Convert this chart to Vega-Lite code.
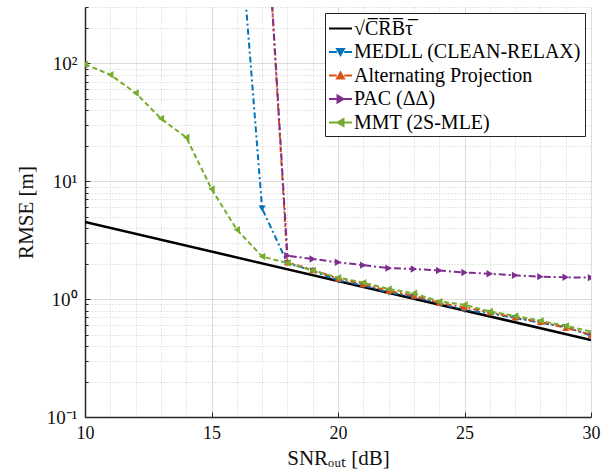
{
  "$schema": "https://vega.github.io/schema/vega-lite/v6.json",
  "width": 506,
  "height": 410,
  "autosize": {"type": "none"},
  "padding": {"left": 85, "top": 7, "right": 12, "bottom": 55},
  "background": "white",
  "config": {
    "view": {"stroke": null},
    "font": "Liberation Serif",
    "legend": {"labelFont": "Liberation Serif"},
    "axis": {"labelFont": "Liberation Serif", "titleFont": "Liberation Serif", "titleFontWeight": "normal", "labelColor": "#111", "titleColor": "#111", "domainColor": "#262626", "tickColor": "#262626", "labelFlush": false}
  },
  "data": {"values": [
    {"g": "crb", "s": "√C̅R̅B̅τ̅", "x": 10, "y": 4.5},
    {"g": "crb", "s": "√C̅R̅B̅τ̅", "x": 30, "y": 0.45},
    {"g": "medll", "s": "MEDLL (CLEAN-RELAX)", "x": 16, "y": 3000},
    {"g": "medll", "s": "MEDLL (CLEAN-RELAX)", "x": 17, "y": 5.87},
    {"g": "medll", "s": "MEDLL (CLEAN-RELAX)", "x": 18, "y": 2.02},
    {"g": "medll", "s": "MEDLL (CLEAN-RELAX)", "x": 19, "y": 1.74},
    {"g": "medll", "s": "MEDLL (CLEAN-RELAX)", "x": 20, "y": 1.44},
    {"g": "medll", "s": "MEDLL (CLEAN-RELAX)", "x": 21, "y": 1.31},
    {"g": "medll", "s": "MEDLL (CLEAN-RELAX)", "x": 22, "y": 1.14},
    {"g": "medll", "s": "MEDLL (CLEAN-RELAX)", "x": 23, "y": 1.05},
    {"g": "medll", "s": "MEDLL (CLEAN-RELAX)", "x": 24, "y": 0.92},
    {"g": "medll", "s": "MEDLL (CLEAN-RELAX)", "x": 25, "y": 0.81},
    {"g": "medll", "s": "MEDLL (CLEAN-RELAX)", "x": 26, "y": 0.76},
    {"g": "medll", "s": "MEDLL (CLEAN-RELAX)", "x": 27, "y": 0.69},
    {"g": "medll", "s": "MEDLL (CLEAN-RELAX)", "x": 28, "y": 0.63},
    {"g": "medll", "s": "MEDLL (CLEAN-RELAX)", "x": 29, "y": 0.58},
    {"g": "medll", "s": "MEDLL (CLEAN-RELAX)", "x": 30, "y": 0.49},
    {"g": "ap", "s": "Alternating Projection", "x": 17, "y": 8000},
    {"g": "ap", "s": "Alternating Projection", "x": 18, "y": 2.05},
    {"g": "ap", "s": "Alternating Projection", "x": 19, "y": 1.77},
    {"g": "ap", "s": "Alternating Projection", "x": 20, "y": 1.49},
    {"g": "ap", "s": "Alternating Projection", "x": 21, "y": 1.34},
    {"g": "ap", "s": "Alternating Projection", "x": 22, "y": 1.17},
    {"g": "ap", "s": "Alternating Projection", "x": 23, "y": 1.07},
    {"g": "ap", "s": "Alternating Projection", "x": 24, "y": 0.93},
    {"g": "ap", "s": "Alternating Projection", "x": 25, "y": 0.85},
    {"g": "ap", "s": "Alternating Projection", "x": 26, "y": 0.77},
    {"g": "ap", "s": "Alternating Projection", "x": 27, "y": 0.7},
    {"g": "ap", "s": "Alternating Projection", "x": 28, "y": 0.64},
    {"g": "ap", "s": "Alternating Projection", "x": 29, "y": 0.57},
    {"g": "ap", "s": "Alternating Projection", "x": 30, "y": 0.5},
    {"g": "pac", "s": "PAC (ΔΔ)", "x": 17, "y": 8000},
    {"g": "pac", "s": "PAC (ΔΔ)", "x": 18, "y": 2.33},
    {"g": "pac", "s": "PAC (ΔΔ)", "x": 19, "y": 2.19},
    {"g": "pac", "s": "PAC (ΔΔ)", "x": 20, "y": 2.05},
    {"g": "pac", "s": "PAC (ΔΔ)", "x": 21, "y": 1.94},
    {"g": "pac", "s": "PAC (ΔΔ)", "x": 22, "y": 1.83},
    {"g": "pac", "s": "PAC (ΔΔ)", "x": 23, "y": 1.8},
    {"g": "pac", "s": "PAC (ΔΔ)", "x": 24, "y": 1.75},
    {"g": "pac", "s": "PAC (ΔΔ)", "x": 25, "y": 1.68},
    {"g": "pac", "s": "PAC (ΔΔ)", "x": 26, "y": 1.64},
    {"g": "pac", "s": "PAC (ΔΔ)", "x": 27, "y": 1.59},
    {"g": "pac", "s": "PAC (ΔΔ)", "x": 28, "y": 1.55},
    {"g": "pac", "s": "PAC (ΔΔ)", "x": 29, "y": 1.53},
    {"g": "pac", "s": "PAC (ΔΔ)", "x": 30, "y": 1.52},
    {"g": "mmt", "s": "MMT (2S-MLE)", "x": 10, "y": 98},
    {"g": "mmt", "s": "MMT (2S-MLE)", "x": 11, "y": 80},
    {"g": "mmt", "s": "MMT (2S-MLE)", "x": 12, "y": 56},
    {"g": "mmt", "s": "MMT (2S-MLE)", "x": 13, "y": 34},
    {"g": "mmt", "s": "MMT (2S-MLE)", "x": 14, "y": 23.5},
    {"g": "mmt", "s": "MMT (2S-MLE)", "x": 15, "y": 8.6},
    {"g": "mmt", "s": "MMT (2S-MLE)", "x": 16, "y": 3.88},
    {"g": "mmt", "s": "MMT (2S-MLE)", "x": 17, "y": 2.3},
    {"g": "mmt", "s": "MMT (2S-MLE)", "x": 18, "y": 2.02},
    {"g": "mmt", "s": "MMT (2S-MLE)", "x": 19, "y": 1.75},
    {"g": "mmt", "s": "MMT (2S-MLE)", "x": 20, "y": 1.52},
    {"g": "mmt", "s": "MMT (2S-MLE)", "x": 21, "y": 1.38},
    {"g": "mmt", "s": "MMT (2S-MLE)", "x": 22, "y": 1.22},
    {"g": "mmt", "s": "MMT (2S-MLE)", "x": 23, "y": 1.12},
    {"g": "mmt", "s": "MMT (2S-MLE)", "x": 24, "y": 0.955},
    {"g": "mmt", "s": "MMT (2S-MLE)", "x": 25, "y": 0.895},
    {"g": "mmt", "s": "MMT (2S-MLE)", "x": 26, "y": 0.785},
    {"g": "mmt", "s": "MMT (2S-MLE)", "x": 27, "y": 0.72},
    {"g": "mmt", "s": "MMT (2S-MLE)", "x": 28, "y": 0.655},
    {"g": "mmt", "s": "MMT (2S-MLE)", "x": 29, "y": 0.593},
    {"g": "mmt", "s": "MMT (2S-MLE)", "x": 30, "y": 0.53}
  ]},
  "layer": [
    {
      "transform": [{"filter": "datum.g === 'crb'"}],
      "mark": {"type": "line", "clip": true, "strokeWidth": 2.5},
      "encoding": {
        "x": {"field": "x", "type": "quantitative", "scale": {"domain": [10, 30], "nice": false, "zero": false},
          "axis": {"orient": "bottom", "values": [11,12,13,14,16,17,18,19,21,22,23,24,26,27,28,29], "labels": false, "title": null, "domain": false, "ticks": false, "grid": true, "gridDash": [1, 2], "gridColor": "#cfcfcf", "gridWidth": 1}},
        "y": {"field": "y", "type": "quantitative", "scale": {"type": "log", "domain": [0.1, 300], "nice": false},
          "axis": {"orient": "left", "values": [0.2,0.3,0.4,0.5,0.6,0.7,0.8,0.9,2,3,4,5,6,7,8,9,20,30,40,50,60,70,80,90,200,300], "labels": false, "title": null, "domain": false, "ticks": true, "tickSize": -3, "grid": true, "gridDash": [1, 2], "gridColor": "#cfcfcf", "gridWidth": 1}},
        "color": {"field": "s", "type": "nominal",
          "scale": {"domain": ["√C̅R̅B̅τ̅", "MEDLL (CLEAN-RELAX)", "Alternating Projection", "PAC (ΔΔ)", "MMT (2S-MLE)"], "range": ["#000000", "#0072BD", "#D95319", "#7E2F8E", "#77AC30"]},
          "legend": {"title": null, "orient": "top-right", "offset": 6, "padding": 3, "strokeColor": "#222", "fillColor": "white", "cornerRadius": 0,
            "labelFont": "Liberation Serif", "labelFontSize": 20, "labelColor": "black", "labelLimit": 400, "labelOffset": 1,
            "symbolSize": 529, "symbolStrokeWidth": 2, "rowPadding": 0.5,
            "encode": {"symbols": {"update": {
              "shape": {"signal": "indexof(datum.value,'MEDLL')>=0 ? 'M-1,0H-0.32M0.32,0H1M-0.3,-0.26H0.3L0,0.26Z' : indexof(datum.value,'Alternating')>=0 ? 'M-1,0H-0.32M0.32,0H1M-0.3,0.26H0.3L0,-0.26Z' : indexof(datum.value,'PAC')>=0 ? 'M-1,0H-0.32M0.32,0H1M-0.26,-0.3V0.3L0.26,0Z' : indexof(datum.value,'MMT')>=0 ? 'M-1,0H-0.32M0.32,0H1M0.26,-0.3V0.3L-0.26,0Z' : 'M-1,0H1'"},
              "fill": {"scale": "color", "field": "value"},
              "stroke": {"scale": "color", "field": "value"},
              "opacity": {"value": 1}
            }}, "labels": {"update": {"font": {"value": "Liberation Serif"}}}}}
        }
      }
    },
    {
      "transform": [{"filter": "datum.g === 'medll'"}],
      "mark": {"type": "line", "clip": true, "strokeWidth": 2, "strokeDash": [6, 3, 2, 3]},
      "encoding": {
        "x": {"field": "x", "type": "quantitative", "scale": {"domain": [10, 30], "nice": false, "zero": false},
          "axis": {"orient": "bottom", "values": [10, 15, 20, 25, 30], "title": "SNRₒᵤₜ [dB]", "titleFontSize": 21, "titlePadding": 5, "labelFontSize": 18, "labelPadding": 12, "tickSize": -5, "grid": true, "gridColor": "#dcdcdc", "gridWidth": 1, "domainWidth": 1.5}},
        "y": {"field": "y", "type": "quantitative", "scale": {"type": "log", "domain": [0.1, 300], "nice": false},
          "axis": {"orient": "left", "values": [0.1, 1, 10, 100], "labelExpr": "datum.value < 0.5 ? '10⁻¹' : datum.value < 5 ? '10⁰' : datum.value < 50 ? '10¹' : '10²'", "title": "RMSE [m]", "titleFontSize": 21, "titlePadding": 10, "labelFontSize": 19, "labelPadding": 13, "tickSize": -5, "grid": true, "gridColor": "#dcdcdc", "gridWidth": 1, "domainWidth": 1.5}},
        "color": {"field": "s", "type": "nominal", "scale": {"domain": ["√C̅R̅B̅τ̅", "MEDLL (CLEAN-RELAX)", "Alternating Projection", "PAC (ΔΔ)", "MMT (2S-MLE)"], "range": ["#000000", "#0072BD", "#D95319", "#7E2F8E", "#77AC30"]}}
      }
    },
    {
      "transform": [{"filter": "datum.g === 'medll'"}],
      "mark": {"type": "point", "clip": true, "shape": "triangle-down", "filled": true, "size": 50, "opacity": 1},
      "encoding": {
        "x": {"field": "x", "type": "quantitative", "scale": {"domain": [10, 30], "nice": false, "zero": false}, "axis": null},
        "y": {"field": "y", "type": "quantitative", "scale": {"type": "log", "domain": [0.1, 300], "nice": false}, "axis": null},
        "color": {"field": "s", "type": "nominal", "scale": {"domain": ["√C̅R̅B̅τ̅", "MEDLL (CLEAN-RELAX)", "Alternating Projection", "PAC (ΔΔ)", "MMT (2S-MLE)"], "range": ["#000000", "#0072BD", "#D95319", "#7E2F8E", "#77AC30"]}}
      }
    },
    {
      "transform": [{"filter": "datum.g === 'ap'"}],
      "mark": {"type": "line", "clip": true, "strokeWidth": 2, "strokeDash": [6, 3, 2, 3]},
      "encoding": {
        "x": {"field": "x", "type": "quantitative", "scale": {"domain": [10, 30], "nice": false, "zero": false}, "axis": null},
        "y": {"field": "y", "type": "quantitative", "scale": {"type": "log", "domain": [0.1, 300], "nice": false}, "axis": null},
        "color": {"field": "s", "type": "nominal", "scale": {"domain": ["√C̅R̅B̅τ̅", "MEDLL (CLEAN-RELAX)", "Alternating Projection", "PAC (ΔΔ)", "MMT (2S-MLE)"], "range": ["#000000", "#0072BD", "#D95319", "#7E2F8E", "#77AC30"]}}
      }
    },
    {
      "transform": [{"filter": "datum.g === 'ap'"}],
      "mark": {"type": "point", "clip": true, "shape": "triangle-up", "filled": true, "size": 50, "opacity": 1},
      "encoding": {
        "x": {"field": "x", "type": "quantitative", "scale": {"domain": [10, 30], "nice": false, "zero": false}, "axis": null},
        "y": {"field": "y", "type": "quantitative", "scale": {"type": "log", "domain": [0.1, 300], "nice": false}, "axis": null},
        "color": {"field": "s", "type": "nominal", "scale": {"domain": ["√C̅R̅B̅τ̅", "MEDLL (CLEAN-RELAX)", "Alternating Projection", "PAC (ΔΔ)", "MMT (2S-MLE)"], "range": ["#000000", "#0072BD", "#D95319", "#7E2F8E", "#77AC30"]}}
      }
    },
    {
      "transform": [{"filter": "datum.g === 'pac'"}],
      "mark": {"type": "line", "clip": true, "strokeWidth": 2, "strokeDash": [7, 3, 2, 3]},
      "encoding": {
        "x": {"field": "x", "type": "quantitative", "scale": {"domain": [10, 30], "nice": false, "zero": false}, "axis": null},
        "y": {"field": "y", "type": "quantitative", "scale": {"type": "log", "domain": [0.1, 300], "nice": false}, "axis": null},
        "color": {"field": "s", "type": "nominal", "scale": {"domain": ["√C̅R̅B̅τ̅", "MEDLL (CLEAN-RELAX)", "Alternating Projection", "PAC (ΔΔ)", "MMT (2S-MLE)"], "range": ["#000000", "#0072BD", "#D95319", "#7E2F8E", "#77AC30"]}}
      }
    },
    {
      "transform": [{"filter": "datum.g === 'pac'"}],
      "mark": {"type": "point", "clip": true, "shape": "triangle-right", "filled": true, "size": 55, "opacity": 1},
      "encoding": {
        "x": {"field": "x", "type": "quantitative", "scale": {"domain": [10, 30], "nice": false, "zero": false}, "axis": null},
        "y": {"field": "y", "type": "quantitative", "scale": {"type": "log", "domain": [0.1, 300], "nice": false}, "axis": null},
        "color": {"field": "s", "type": "nominal", "scale": {"domain": ["√C̅R̅B̅τ̅", "MEDLL (CLEAN-RELAX)", "Alternating Projection", "PAC (ΔΔ)", "MMT (2S-MLE)"], "range": ["#000000", "#0072BD", "#D95319", "#7E2F8E", "#77AC30"]}}
      }
    },
    {
      "transform": [{"filter": "datum.g === 'mmt'"}],
      "mark": {"type": "line", "clip": true, "strokeWidth": 2, "strokeDash": [5, 3]},
      "encoding": {
        "x": {"field": "x", "type": "quantitative", "scale": {"domain": [10, 30], "nice": false, "zero": false}, "axis": null},
        "y": {"field": "y", "type": "quantitative", "scale": {"type": "log", "domain": [0.1, 300], "nice": false}, "axis": null},
        "color": {"field": "s", "type": "nominal", "scale": {"domain": ["√C̅R̅B̅τ̅", "MEDLL (CLEAN-RELAX)", "Alternating Projection", "PAC (ΔΔ)", "MMT (2S-MLE)"], "range": ["#000000", "#0072BD", "#D95319", "#7E2F8E", "#77AC30"]}}
      }
    },
    {
      "transform": [{"filter": "datum.g === 'mmt'"}],
      "mark": {"type": "point", "clip": true, "shape": "triangle-left", "filled": true, "size": 55, "opacity": 1},
      "encoding": {
        "x": {"field": "x", "type": "quantitative", "scale": {"domain": [10, 30], "nice": false, "zero": false}, "axis": null},
        "y": {"field": "y", "type": "quantitative", "scale": {"type": "log", "domain": [0.1, 300], "nice": false}, "axis": null},
        "color": {"field": "s", "type": "nominal", "scale": {"domain": ["√C̅R̅B̅τ̅", "MEDLL (CLEAN-RELAX)", "Alternating Projection", "PAC (ΔΔ)", "MMT (2S-MLE)"], "range": ["#000000", "#0072BD", "#D95319", "#7E2F8E", "#77AC30"]}}
      }
    }
  ],
  "resolve": {"axis": {"x": "independent", "y": "independent"}}
}
